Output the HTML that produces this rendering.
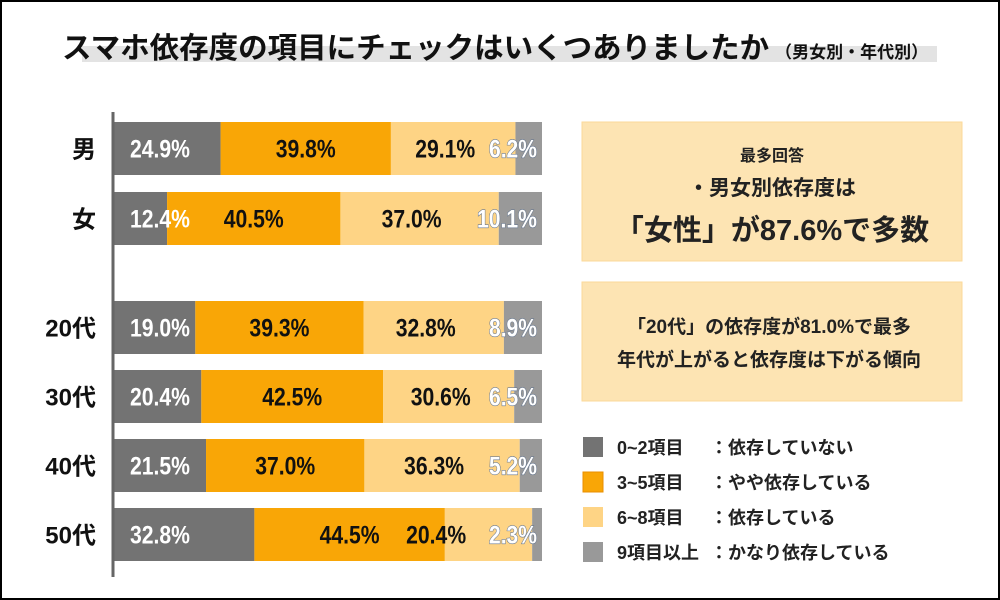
<!DOCTYPE html>
<html><head><meta charset="utf-8">
<style>
html,body{margin:0;padding:0;background:#fff;}
#wrap{position:relative;width:1000px;height:600px;box-sizing:border-box;border:2px solid #000;overflow:hidden;font-family:"Liberation Sans","Noto Sans CJK JP",sans-serif;}
svg{position:absolute;left:0;top:0;}
</style></head>
<body>
<div id="wrap">
<svg id="chart" width="1000" height="600">
  <rect x="80" y="44" width="855" height="16" fill="#e3e3e3"/>
  <text x="60" y="56" font-size="29.5" font-weight="bold" fill="#111" font-family="'Liberation Sans','Noto Sans CJK JP',sans-serif">スマホ依存度の項目にチェックはいくつありましたか<tspan font-size="17" dx="6">（男女別・年代別）</tspan></text>

  <rect x="580" y="120" width="380" height="139" fill="#fde4b3" stroke="#fbd99a"/>
  <text x="770" y="159" font-size="16" font-weight="bold" text-anchor="middle" fill="#222">最多回答</text>
  <text x="770" y="193" font-size="21" font-weight="bold" text-anchor="middle" fill="#222">・男女別依存度は</text>
  <text x="770" y="238" font-size="29" font-weight="bold" text-anchor="middle" fill="#222">「女性」が87.6%で多数</text>

  <rect x="580" y="280" width="380" height="119" fill="#fde4b3" stroke="#fbd99a"/>
  <text x="767" y="331" font-size="19" font-weight="bold" text-anchor="middle" fill="#222">「20代」の依存度が81.0%で最多</text>
  <text x="767" y="364" font-size="19" font-weight="bold" text-anchor="middle" fill="#222">年代が上がると依存度は下がる傾向</text>

  <g id="legend"></g>
  <g id="bars"></g>
  <line x1="111" y1="110" x2="111" y2="575" stroke="#666" stroke-width="3"/>
</svg>
</div>
<script>
const categories = ["男","女","20代","30代","40代","50代"];
const seriesNames = ["0~2項目","3~5項目","6~8項目","9項目以上"];
const seriesDesc = ["：依存していない","：やや依存している","：依存している","：かなり依存している"];
const s1 = [24.9,12.4,19.0,20.4,21.5,32.8];
const s2 = [39.8,40.5,39.3,42.5,37.0,44.5];
const s3 = [29.1,37.0,32.8,30.6,36.3,20.4];
const s4 = [6.2,10.1,8.9,6.5,5.2,2.3];

const NS="http://www.w3.org/2000/svg";
const colors=["#737373","#f9a606","#fed485","#999999"];
const rowTop=[120,190,299,368,437,506];
const barH=53, x0=112, x1=540;
function xs(v){return (x1-x0)*v/100;}
function el(t,a){const e=document.createElementNS(NS,t);for(const k in a)e.setAttribute(k,a[k]);return e;}
const g=document.getElementById('bars');
const series=[s1,s2,s3,s4];
categories.forEach((c,i)=>{
  const y=rowTop[i];
  const lab=el('text',{x:94,y:y+barH/2+9,'font-size':24,'font-weight':'bold','text-anchor':'end',fill:'#111'});
  
  
  lab.textContent=c;g.appendChild(lab);
  const tot=series.reduce((a,s)=>a+s[i],0);
  let acc=0;
  series.forEach((s,j)=>{
    const v=s[i]*100/tot;
    const bx=x0+xs(acc), bw=xs(v);
    const r=el('rect',{x:bx,y:y,width:bw,height:barH,fill:colors[j]});
    
    
    g.appendChild(r);
    acc+=v;
  });
  acc=0;
  series.forEach((s,j)=>{
    const v=s[i]*100/tot;
    const bx=x0+xs(acc), bw=xs(v);
    acc+=v;
    let tx,anchor,fill,stroke='none';
    if(j===0){tx=x0+16;anchor='start';fill='#fff';}
    else if(j===3){tx=x1-5;anchor='end';fill='#fff';stroke='#6b7a90';}
    else if(j===2){tx=(bw<100)?(bx+bw-66):(bx+bw/2+22);anchor='end';fill='#111';}
    else {tx=bx+bw/2;anchor='middle';fill='#111';}
    const txt=s[i].toFixed(1)+'%';
    const t=el('text',{x:tx,y:y+barH/2+9,'font-size':25,'font-weight':'bold','text-anchor':anchor,fill:fill,stroke:stroke,'stroke-width':stroke==='none'?0:1.2,'paint-order':'stroke',textLength:txt.length*12,lengthAdjust:'spacingAndGlyphs'});
    
    
    t.textContent=txt;
    g.appendChild(t);
  });
});
const lg=document.getElementById('legend');
seriesNames.forEach((n,j)=>{
  const y=435+j*35;
  const sw=el('rect',{x:581,y:y,width:20,height:20,fill:colors[j],stroke:j===1?'#e98f00':'none'});
  
  
  lg.appendChild(sw);
  const t=el('text',{x:615,y:y+17,'font-size':18,'font-weight':'bold',fill:'#222'});
  
  
  t.textContent=n;lg.appendChild(t);
  const d=el('text',{x:708,y:y+17,'font-size':18,'font-weight':'bold',fill:'#222'});
  
  
  d.textContent=seriesDesc[j];lg.appendChild(d);
});
</script>
</body></html>
